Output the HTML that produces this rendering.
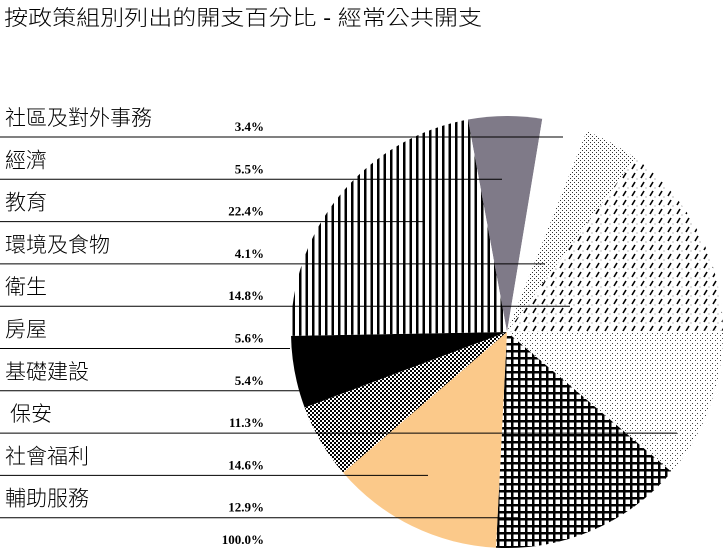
<!DOCTYPE html>
<html><head><meta charset="utf-8">
<style>
body{margin:0;background:#fff;width:724px;height:549px;overflow:hidden;}
svg{display:block;}
.lab{font-family:"Liberation Sans","Noto Sans CJK TC",sans-serif;font-size:21px;font-weight:300;fill:#000;}
.pct{font-family:"Liberation Serif",serif;font-size:13px;font-weight:bold;fill:#000;}
</style></head>
<body>
<svg id="chart" width="724" height="549" viewBox="0 0 724 549">
<defs>
<pattern id="pVert" width="6.5" height="10" patternUnits="userSpaceOnUse"><rect width="6.5" height="10" fill="#fff"/><rect x="0" width="2.5" height="10" fill="#000"/></pattern>
<pattern id="pGrid" width="7" height="7" patternUnits="userSpaceOnUse"><rect width="7" height="7" fill="#fff"/><rect width="2.5" height="7" fill="#000"/><rect width="7" height="2.5" fill="#000"/></pattern>
<pattern id="pCross" width="4" height="4" patternUnits="userSpaceOnUse"><rect width="4" height="4" fill="#fff"/><rect width="2" height="2" fill="#000"/><rect x="2" y="2" width="2" height="2" fill="#000"/><rect x="1" y="1" width="1" height="1" fill="#000"/></pattern>
<pattern id="pDiag" width="9" height="9" patternUnits="userSpaceOnUse"><rect width="9" height="9" fill="#fff"/><path d="M2 7 L5 2" stroke="#000" stroke-width="1.6"/><circle cx="7" cy="8" r="0.5" fill="#555"/></pattern>
<pattern id="pDots" width="4" height="4" patternUnits="userSpaceOnUse"><rect width="4" height="4" fill="#fff"/><rect width="1" height="1" fill="#333"/><rect x="2" y="2" width="1" height="1" fill="#333"/></pattern>
<pattern id="pDots2" width="5" height="5" patternUnits="userSpaceOnUse"><rect width="5" height="5" fill="#fff"/><rect width="1" height="1" fill="#444"/><rect x="2" y="3" width="1" height="1" fill="#444"/></pattern>
</defs>
<text class="lab" x="4" y="25" font-size="22" textLength="478" lengthAdjust="spacingAndGlyphs">按政策組別列出的開支百分比 - 經常公共開支</text>
<g id="slices"></g>
<g id="legend"></g>
</svg>
<script>
// Legend (left-side list) data
const legendCategories = ["社區及對外事務","經濟","教育","環境及食物","衛生","房屋","基礎建設","保安","社會福利","輔助服務"];
const legendValues = [3.4,5.5,22.4,4.1,14.8,5.6,5.4,11.3,14.6,12.9];
const totalLabel = "100.0%";
// Pie slices, clockwise from the top-left edge of the grey slice
const sliceCategories = ["經濟","社區及對外事務","環境及食物","衛生","保安","社會福利","輔助服務","房屋","基礎建設","教育"];
const sliceValues = [5.5,3.4,4.1,14.8,11.3,14.6,12.9,5.6,5.4,22.4];
const sliceFills = ["#7f7a88","#ffffff","url(#pDots)","url(#pDiag)","url(#pDots2)","url(#pGrid)","#fbc98a","url(#pCross)","#000000","url(#pVert)"];
const leaderEnds = [563,502,425,545,570,290,300,677,428,520];

const NS="http://www.w3.org/2000/svg";
const cx=507, cy=332, r=216, startDeg=-10.4;
function angle(v){return v/100*360;}
function pt(deg){const a=deg*Math.PI/180;return [cx+r*Math.sin(a), cy-r*Math.cos(a)];}
const gS=document.getElementById('slices');
let cum=startDeg;
sliceValues.forEach((v,i)=>{
  const a0=cum, a1=cum+angle(v); cum=a1;
  const p0=pt(a0), p1=pt(a1), large=(a1-a0)>180?1:0;
  const p=document.createElementNS(NS,'path');
  p.setAttribute('d',`M${cx} ${cy} L${p0[0]} ${p0[1]} A${r} ${r} 0 ${large} 1 ${p1[0]} ${p1[1]} Z`);
  p.setAttribute('fill',sliceFills[i]);
  
  
  gS.appendChild(p);
});
const gL=document.getElementById('legend');
legendCategories.forEach((c,i)=>{
  const y0=105+i*42.3;
  const t=document.createElementNS(NS,'text');
  t.setAttribute('class','lab'); t.setAttribute('x', i===7?10:5); t.setAttribute('y',y0+20);
  if(i===4) t.setAttribute('fill','#777');
  t.textContent=c;
  
  
  gL.appendChild(t);
  const pc=document.createElementNS(NS,'text');
  pc.setAttribute('class','pct'); pc.setAttribute('x',264); pc.setAttribute('y',y0+26); pc.setAttribute('text-anchor','end');
  pc.textContent=legendValues[i].toFixed(1)+'%';
  
  
  gL.appendChild(pc);
  const ln=document.createElementNS(NS,'line');
  const ly=137+i*42.3;
  ln.setAttribute('x1',0); ln.setAttribute('x2',leaderEnds[i]); ln.setAttribute('y1',ly); ln.setAttribute('y2',ly);
  ln.setAttribute('stroke','#000'); ln.setAttribute('stroke-width','1');
  
  
  gL.appendChild(ln);
});
const tt=document.createElementNS(NS,'text');
tt.setAttribute('class','pct'); tt.setAttribute('x',264); tt.setAttribute('y',544); tt.setAttribute('text-anchor','end');
tt.textContent=totalLabel;


gL.appendChild(tt);
</script>
</body></html>
